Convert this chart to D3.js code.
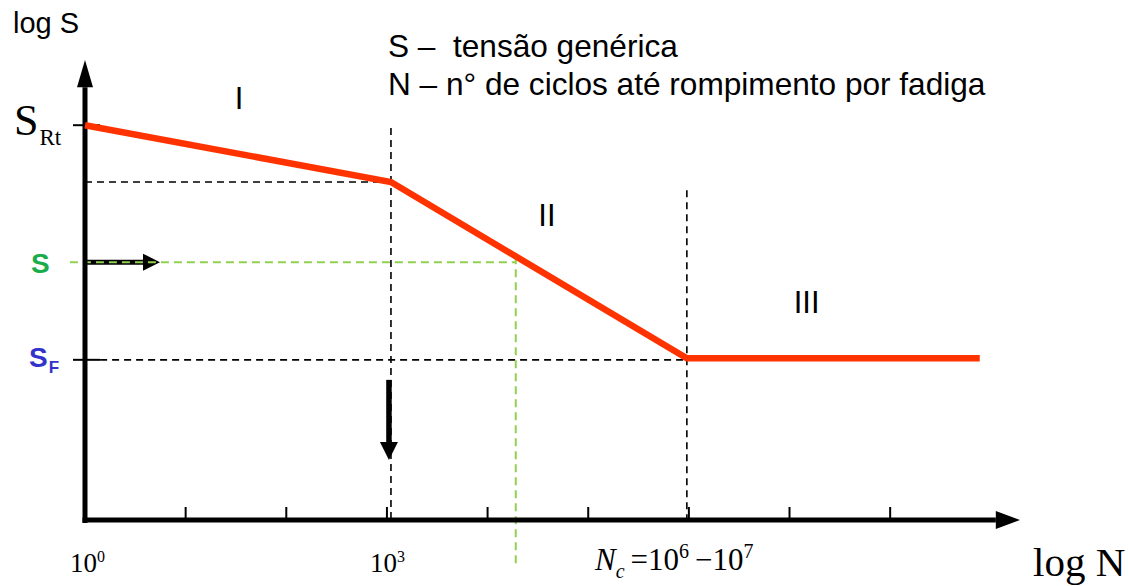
<!DOCTYPE html>
<html>
<head>
<meta charset="utf-8">
<script src="https://cdn.jsdelivr.net/npm/d3@7"></script>
<style>
  html, body { margin: 0; padding: 0; background: #fff; }
  svg { display: block; }
</style>
</head>
<body>
<div id="vis"></div>
<script>
/* Datos de la curva S-N (log N en décadas, log S en unidades arbitrarias) */
const curveLogN = [0, 3.04, 5.98, 8.89];
const curveLogS = [8.62, 7.38, 3.53, 3.53];
const xTicks = [1, 2, 3, 4, 5, 6, 7, 8];
const levelRt = 8.62;     // S_Rt
const levelKnee = 7.38;   // fin de la región I
const levelS = 5.63;      // S genérica
const levelF = 3.53;      // S_F
const logNKnee = 3.04;
const logNc = 5.98;
const logNofS = 4.28;
const regionNames = ["I", "II", "III"];
const legendLines = ["S \u2013  tensão genérica", "N \u2013 n° de ciclos até rompimento por fadiga"];

const WIDTH = 1129, HEIGHT = 586;
const SANS = "'Liberation Sans', Arial, sans-serif";
const SERIF = "'Liberation Serif', 'Times New Roman', serif";
const RED = "#ff3300";

const x = d3.scaleLinear().domain([0, 9.3]).range([85, 1021]);
const y = d3.scaleLinear().domain([0, 10]).range([520, 62]);

const svg = d3.select("#vis").append("svg")
  .attr("width", WIDTH).attr("height", HEIGHT);

// Líneas guía punteadas negras
const dashed = svg.append("g")
  .attr("stroke", "#000").attr("stroke-width", 1.6)
  .attr("stroke-dasharray", "7,5").attr("fill", "none");
dashed.append("line").attr("x1", x(0)).attr("x2", x(logNKnee))
  .attr("y1", y(levelKnee)).attr("y2", y(levelKnee));
dashed.append("line").attr("x1", x(0.15)).attr("x2", x(logNc))
  .attr("y1", y(levelF) + 1.5).attr("y2", y(levelF) + 1.5);
dashed.append("line").attr("x1", x(logNKnee)).attr("x2", x(logNKnee))
  .attr("y1", y(8.56)).attr("y2", y(0));
dashed.append("line").attr("x1", x(logNc)).attr("x2", x(logNc))
  .attr("y1", y(7.2)).attr("y2", y(0));

// Ticks del eje x
svg.append("g").selectAll("line")
  .data(xTicks).join("line")
  .attr("x1", d => x(d)).attr("x2", d => x(d))
  .attr("y1", y(0) - 13).attr("y2", y(0))
  .attr("stroke", "#000").attr("stroke-width", 2);

// Ticks del eje y
svg.append("g").selectAll("line")
  .data([levelRt, levelF]).join("line")
  .attr("x1", x(0) - 12).attr("x2", x(0) + 15)
  .attr("y1", (d, i) => y(d) + (i ? 1.5 : 0)).attr("y2", (d, i) => y(d) + (i ? 1.5 : 0))
  .attr("stroke", "#000").attr("stroke-width", 2);

// Flechas negras (horizontal desde el eje y vertical hacia abajo)
function arrow(x1, y1, x2, y2, w, head, hw) {
  const a = Math.atan2(y2 - y1, x2 - x1);
  const bx = x2 - head * Math.cos(a), by = y2 - head * Math.sin(a);
  const nx = -Math.sin(a), ny = Math.cos(a);
  const g = svg.append("g");
  g.append("line").attr("x1", x1).attr("y1", y1).attr("x2", bx).attr("y2", by)
    .attr("stroke", "#000").attr("stroke-width", w);
  g.append("path")
    .attr("d", `M${x2},${y2}L${bx + nx * hw},${by + ny * hw}L${bx - nx * hw},${by - ny * hw}Z`)
    .attr("fill", "#000");
}
arrow(x(0), y(levelS), x(0.745), y(levelS), 5, 17, 8.5);
arrow(x(logNKnee) - 2, y(3.06), x(logNKnee) - 2, y(1.31), 5.5, 18, 9);

// Líneas guía verdes
const green = svg.append("g")
  .attr("stroke", "#92d050").attr("stroke-width", 2)
  .attr("stroke-dasharray", "8,5").attr("fill", "none");
green.append("line").attr("x1", x(-0.15)).attr("x2", x(logNofS))
  .attr("y1", y(levelS)).attr("y2", y(levelS));
green.append("line").attr("x1", x(logNofS)).attr("x2", x(logNofS))
  .attr("y1", y(levelS) - 6).attr("y2", y(-1.03));

// Ejes con flecha
svg.append("line").attr("x1", x(0)).attr("x2", x(0))
  .attr("y1", y(0) + 3).attr("y2", y(9.45))
  .attr("stroke", "#000").attr("stroke-width", 5);
svg.append("path")
  .attr("d", `M${x(0)},${y(10) - 2}L${x(0) - 8},${y(9.45)}L${x(0) + 8},${y(9.45)}Z`);
svg.append("line").attr("x1", x(0) - 2.5).attr("x2", x(9.05))
  .attr("y1", y(0)).attr("y2", y(0))
  .attr("stroke", "#000").attr("stroke-width", 5);
svg.append("path")
  .attr("d", `M${x(9.3) - 1},${y(0)}L${x(9.05)},${y(0) - 9}L${x(9.05)},${y(0) + 9}Z`);

// Curva S-N
const line = d3.line().x(d => x(d[0])).y(d => y(d[1]));
svg.append("path")
  .datum(d3.zip(curveLogN, curveLogS))
  .attr("d", line)
  .attr("fill", "none").attr("stroke", RED).attr("stroke-width", 6.5)
  .attr("stroke-linejoin", "miter");

// Textos
svg.append("text").attr("x", 13).attr("y", 33)
  .attr("font-family", SANS).attr("font-size", 29).text("log S");

const legend = svg.append("g").attr("font-family", SANS).attr("font-size", 31.6);
legend.selectAll("text").data(legendLines).join("text")
  .attr("x", 388).attr("y", (d, i) => 57 + i * 38)
  .attr("xml:space", "preserve").style("white-space", "pre")
  .text(d => d);

const regionPos = [[1.53, 8.97], [4.59, 6.42], [7.17, 4.52]];
svg.append("g").attr("font-family", SANS).attr("font-size", 31).attr("text-anchor", "middle")
  .selectAll("text").data(regionNames).join("text")
  .attr("x", (d, i) => x(regionPos[i][0])).attr("y", (d, i) => y(regionPos[i][1]))
  .text(d => d);

// S_Rt
const tRt = svg.append("text").attr("x", 14).attr("y", 135)
  .attr("font-family", SERIF).attr("font-size", 44);
tRt.append("tspan").text("S");
tRt.append("tspan").attr("font-size", 23).attr("dy", 10).attr("dx", 1).text("Rt");

// S (verde) y S_F (azul)
svg.append("text").attr("x", 31).attr("y", 273)
  .attr("font-family", SANS).attr("font-size", 28).attr("font-weight", "bold")
  .attr("fill", "#1aab4a").text("S");
const tF = svg.append("text").attr("x", 29).attr("y", 367)
  .attr("font-family", SANS).attr("font-size", 28).attr("font-weight", "bold")
  .attr("fill", "#3333cc");
tF.append("tspan").text("S");
tF.append("tspan").attr("font-size", 17).attr("dy", 6).attr("dx", 1).text("F");

// Etiquetas del eje x
function power(xp, txt, exp) {
  const t = svg.append("text").attr("x", xp).attr("y", 572)
    .attr("font-family", SERIF).attr("font-size", 27);
  t.append("tspan").text(txt);
  t.append("tspan").attr("font-size", 16).attr("dy", -10).text(exp);
}
power(70, "10", "0");
power(370, "10", "3");

const tNc = svg.append("text").attr("x", 595).attr("y", 570)
  .attr("font-family", SERIF).attr("font-size", 31);
tNc.append("tspan").attr("font-style", "italic").text("N");
tNc.append("tspan").attr("font-style", "italic").attr("font-size", 20).attr("dy", 8).text("c");
tNc.append("tspan").attr("dy", -8).attr("dx", 6).text("=10");
tNc.append("tspan").attr("font-size", 20).attr("dy", -12).text("6");
tNc.append("tspan").attr("dy", 12).attr("dx", 6).text("\u221210");
tNc.append("tspan").attr("font-size", 20).attr("dy", -12).text("7");

svg.append("text").attr("x", 1033).attr("y", 576)
  .attr("font-family", SERIF).attr("font-size", 41).text("log N");
</script>
</body>
</html>
